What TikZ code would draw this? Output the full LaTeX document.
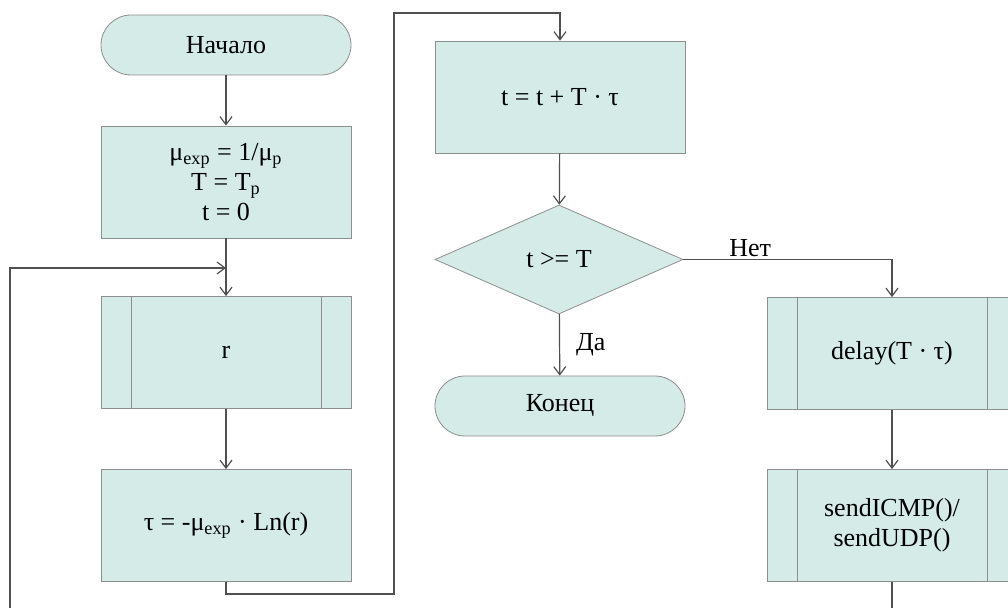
\documentclass[tikz,border=0pt]{standalone}
\usepackage{fontspec}
\setmainfont{Liberation Serif}
\usepackage{xcolor}
\usepackage{tikz}
\usetikzlibrary{arrows.meta,positioning,shapes.geometric}

\definecolor{boxfill}{HTML}{D4EBE8}
\definecolor{boxline}{HTML}{8E8E8E}
\definecolor{wire}{HTML}{505050}

\begin{document}
\begin{tikzpicture}[x=0.5pt, y=-0.5pt,
  font=\fontsize{13}{15}\selectfont,
  block/.style={draw=boxline, fill=boxfill, align=center, minimum width=125pt, minimum height=56pt, inner sep=2pt},
  term/.style={block, rounded corners=15pt, minimum height=30pt},
  subproc/.style={block, path picture={
      \draw[boxline] ([xshift=15pt]path picture bounding box.north west) -- ([xshift=15pt]path picture bounding box.south west);
      \draw[boxline] ([xshift=-15pt]path picture bounding box.north east) -- ([xshift=-15pt]path picture bounding box.south east);}},
  decision/.style={diamond, draw=boxline, fill=boxfill, minimum width=124pt, minimum height=54.5pt, aspect=2.3, inner sep=0pt},
  arrow/.style={-{Straight Barb[length=4pt,width=6pt]}, draw=wire, line width=0.6pt},
  edgeLabel/.style={inner sep=1pt}
]
\useasboundingbox (0,0) rectangle (1008,608);
\clip (0,0) rectangle (1008,608);

\node[term] (start) at (226,45) {Начало};
\node[block] (init) at (226,182) {μ\textsubscript{exp} = 1/μ\textsubscript{p}\\T = T\textsubscript{p}\\t = 0};
\node[subproc] (rnd) at (226,352.5) {r};
\node[block] (tau) at (226,525.5) {τ = -μ\textsubscript{exp} · Ln(r)};
\node[block] (upd) at (560,97) {t = t + T · τ};
\node[decision] (cond) at (559,259.5) {t >= T};
\node[term] (stop) at (560,406) {Конец};
\node[subproc] (delay) at (892,353.5) {delay(T · τ)};
\node[subproc] (send) at (892,525.5) {sendICMP()/\\sendUDP()};

\coordinate (join) at (226,268);
\coordinate (loopin) at (10,620);
\coordinate (down) at (394,594);
\coordinate (up) at (394,13);
\coordinate (out) at (892,620);

\draw[arrow] (start) -- (init);
\draw[arrow] (init) -- (rnd);
\draw[arrow] (loopin) |- (join);
\draw[arrow] (rnd) -- (tau);
\draw[arrow] (tau.south) |- (down) -- (up) -| (upd.north);
\draw[arrow] (upd) -- (cond);
\draw[arrow] (cond) -- node[right=7pt, edgeLabel]{Да} (stop);
\draw[arrow] (cond.east) -| node[above, edgeLabel, pos=0.16]{Нет} (delay.north);
\draw[arrow] (delay) -- (send);
\draw[arrow, -] (send) -- (out);
\end{tikzpicture}
\end{document}
